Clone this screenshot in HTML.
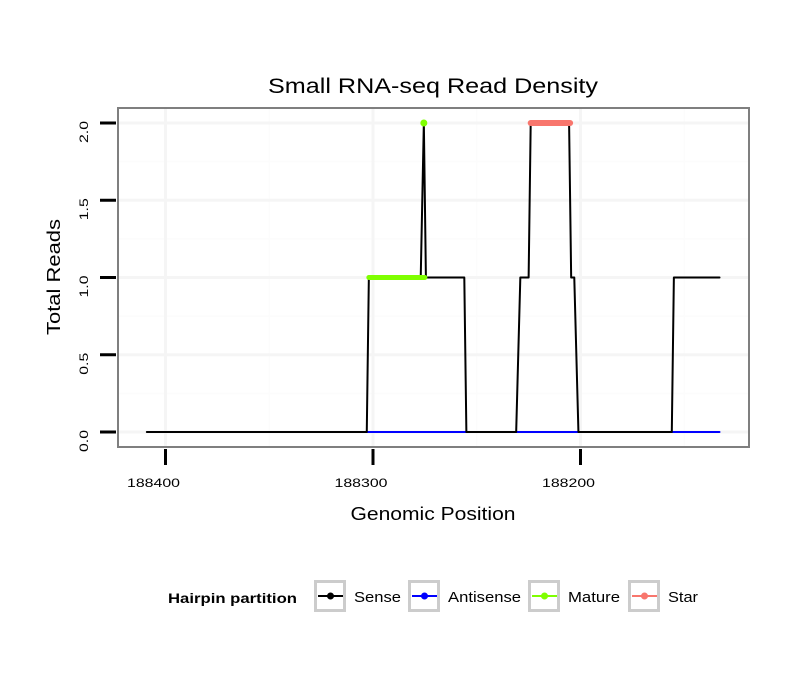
<!DOCTYPE html>
<html><head><meta charset="utf-8"><style>
body{margin:0;background:#fff;font-family:"Liberation Sans",sans-serif}
</style></head><body>
<svg id="c" width="810" height="690" xmlns="http://www.w3.org/2000/svg" font-family="Liberation Sans, sans-serif"></svg>
<script>
const senseX=[188409,188303,188302,188277,188275.5,188274.5,188256,188255,188231,188229,188225,188224,188205.5,188204.5,188203,188201,188156,188155,188133];
const senseY=[0,0,1,1,2,1,1,0,0,1,1,2,2,1,1,0,0,1,1];
const antiX=[188303,188133];
const antiY=[0,0];
const matureX=[188302,188275];
const matureY=[1,1];
const maturePeakX=[188275.5];
const maturePeakY=[2];
const starX=[188224,188205];
const starY=[2,2];
const xTicks=[188400,188300,188200];
const yTicks=[0,0.5,1,1.5,2];
const yTickLabels=["0.0","0.5","1.0","1.5","2.0"];

const svg=document.getElementById('c');
const NS="http://www.w3.org/2000/svg";
const L=118,R=749,T=108,B=447;
function sx(v){return 373+(188300-v)*2.075;}
function sy(v){return 432-v*154.5;}
function el(tag,attrs,parent){const e=document.createElementNS(NS,tag);for(const k in attrs)e.setAttribute(k,attrs[k]);(parent||svg).appendChild(e);return e;}

const panel=el('rect',{x:L,y:T,width:R-L,height:B-T,fill:'#fff'});


for(const v of [188350,188250,188150]){const g=el('line',{x1:sx(v),x2:sx(v),y1:T,y2:B,stroke:'#fcfcfc','stroke-width':1.5});}
for(const v of [0.25,0.75,1.25,1.75]){const g=el('line',{x1:L,x2:R,y1:sy(v),y2:sy(v),stroke:'#fcfcfc','stroke-width':1.5});}
for(const v of xTicks){const g=el('line',{x1:sx(v),x2:sx(v),y1:T,y2:B,stroke:'#f5f5f5','stroke-width':3});}
for(const v of yTicks){const g=el('line',{x1:L,x2:R,y1:sy(v),y2:sy(v),stroke:'#f5f5f5','stroke-width':3});}

function poly(xs,ys,color,w,name){const p=el('polyline',{points:xs.map((x,i)=>sx(x)+','+sy(ys[i])).join(' '),fill:'none',stroke:color,'stroke-width':w,'stroke-linejoin':'round','stroke-linecap':'round'});}
poly(antiX,antiY,'#0000ff',2,'antisense-line');
poly(senseX,senseY,'#000',2,'sense-line');
poly(matureX,matureY,'#7fff00',5,'mature-line');
for(let i=0;i<maturePeakX.length;i++){const c=el('circle',{cx:sx(maturePeakX[i]),cy:sy(maturePeakY[i]),r:3.5,fill:'#7fff00'});}
poly(starX,starY,'#f8766d',6,'star-line');

const border=el('rect',{x:L,y:T,width:R-L,height:B-T,fill:'none',stroke:'#7f7f7f','stroke-width':2});



xTicks.forEach(v=>{
const t=el('line',{x1:sx(v),x2:sx(v),y1:449,y2:465,stroke:'#000','stroke-width':3});


const tx=el('text',{x:sx(v)-12,y:487,'font-size':12,'text-anchor':'middle',fill:'#000',textLength:53,lengthAdjust:'spacingAndGlyphs'});tx.textContent=v;


});
yTicks.forEach((v,i)=>{
const t=el('line',{x1:100,x2:116,y1:sy(v),y2:sy(v),stroke:'#000','stroke-width':3});


const tx=el('text',{x:0,y:0,'font-size':12,'text-anchor':'middle',fill:'#000',textLength:22,lengthAdjust:'spacingAndGlyphs',transform:`translate(88,${sy(v)+9}) rotate(-90)`});tx.textContent=yTickLabels[i];


});
const title=el('text',{x:433,y:93,'font-size':21,'text-anchor':'middle',textLength:330,lengthAdjust:'spacingAndGlyphs'});title.textContent='Small RNA-seq Read Density';


const xt=el('text',{x:433,y:520,'font-size':18,'text-anchor':'middle',textLength:165,lengthAdjust:'spacingAndGlyphs'});xt.textContent='Genomic Position';


const yt=el('text',{x:0,y:0,'font-size':18,'text-anchor':'middle',textLength:116,lengthAdjust:'spacingAndGlyphs',transform:'translate(60,277) rotate(-90)'});yt.textContent='Total Reads';



const lt=el('text',{x:168,y:603,'font-size':14,'font-weight':'bold',textLength:129,lengthAdjust:'spacingAndGlyphs'});lt.textContent='Hairpin partition';


const leg=[['Sense','#000',314,47],['Antisense','#0000ff',408,73],['Mature','#7fff00',528,52],['Star','#f8766d',628,30]];
leg.forEach(([n,c,x,w])=>{
const g=el('g',{});


el('rect',{x:x+1.5,y:581.5,width:29,height:29,fill:'#fff',stroke:'#cccccc','stroke-width':3},g);
el('line',{x1:x+4,x2:x+29,y1:596,y2:596,stroke:c,'stroke-width':2},g);
el('circle',{cx:x+16.5,cy:596,r:3.5,fill:c},g);
const t=el('text',{x:x+40,y:602,'font-size':15,textLength:w,lengthAdjust:'spacingAndGlyphs'},g);t.textContent=n;
});
</script>
</body></html>
